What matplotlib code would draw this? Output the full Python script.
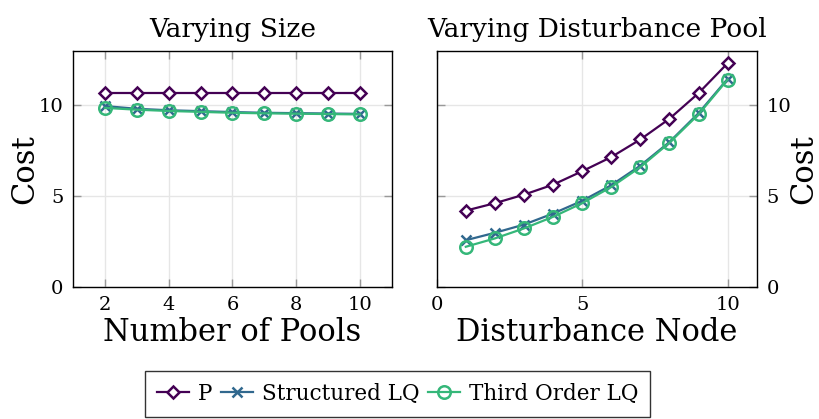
import matplotlib
matplotlib.use("Agg")
import matplotlib.pyplot as plt

plt.rcParams['font.family'] = ['DejaVu Serif']

# Left panel: varying size
pools = [2, 3, 4, 5, 6, 7, 8, 9, 10]
size_p = [10.65, 10.65, 10.65, 10.65, 10.65, 10.65, 10.65, 10.65, 10.65]
size_slq = [9.95, 9.80, 9.72, 9.67, 9.62, 9.58, 9.56, 9.54, 9.52]
size_tolq = [9.85, 9.75, 9.68, 9.63, 9.58, 9.55, 9.53, 9.51, 9.49]

# Right panel: varying disturbance pool
nodes = [1, 2, 3, 4, 5, 6, 7, 8, 9, 10]
dist_p = [4.19, 4.60, 5.07, 5.62, 6.36, 7.14, 8.11, 9.25, 10.66, 12.31]
dist_slq = [2.56, 2.97, 3.42, 4.03, 4.73, 5.59, 6.67, 7.97, 9.56, 11.45]
dist_tolq = [2.20, 2.66, 3.21, 3.85, 4.60, 5.49, 6.59, 7.93, 9.49, 11.41]

labels = ["P", "Structured LQ", "Third Order LQ"]
colors = ["#440154", "#31688e", "#35b779"]

fig = plt.figure(figsize=(8.2, 4.19), dpi=100)
ax1 = fig.add_axes([73/820, 1-286.7/419, 319/820, 236/419])
ax2 = fig.add_axes([436.7/820, 1-286.7/419, 320/820, 236/419])

def draw(ax, x, p, s, t):
    h1, = ax.plot(x, p, color=colors[0], lw=1.6, marker='D', ms=6.5, mfc='white', mec=colors[0], mew=1.8, label=labels[0])
    h2, = ax.plot(x, s, color=colors[1], lw=1.6, marker='x', ms=7, mew=1.8, label=labels[1])
    h3, = ax.plot(x, t, color=colors[2], lw=1.6, marker='o', ms=9, mfc='none', mec=colors[2], mew=1.8, label=labels[2])
    return [h1, h2, h3]

handles = draw(ax1, pools, size_p, size_slq, size_tolq)
draw(ax2, nodes, dist_p, dist_slq, dist_tolq)

for ax in (ax1, ax2):
    ax.set_ylim(0, 13)
    ax.set_yticks([0, 5, 10])
    ax.grid(True, color='#e6e6e6', lw=1)
    ax.set_axisbelow(True)
    ax.tick_params(direction='in', length=6, width=1, color='#999999', labelsize=14, top=True, pad=7)
    for sp in ax.spines.values():
        sp.set_linewidth(1.0)

ax1.set_xlim(1, 11)
ax1.set_xticks([2, 4, 6, 8, 10])
ax1.tick_params(axis='y', left=True, right=True)
ax1.set_title("Varying Size", fontsize=19, pad=10)
ax1.set_xlabel("Number of Pools", fontsize=22, labelpad=2)
ax1.set_ylabel("Cost", fontsize=22, va='center')
ax1.yaxis.set_label_coords(-0.150, 0.5)

ax2.set_xlim(0, 11)
ax2.set_xticks([0, 5, 10])
ax2.yaxis.tick_right()
ax2.yaxis.set_label_position('right')
ax2.tick_params(axis='y', left=True, right=True, labelleft=False, labelright=True)
ax2.set_title("Varying Disturbance Pool", fontsize=19, pad=10)
ax2.set_xlabel("Disturbance Node", fontsize=22, labelpad=2)
ax2.set_ylabel("Cost", fontsize=22, va='center')
ax2.yaxis.set_label_coords(1.148, 0.5)

leg = fig.legend(handles=handles, labels=labels, loc='upper center', bbox_to_anchor=(0.4848, 0.1146),
                 borderaxespad=0, ncol=3, fontsize=15.5, frameon=True, fancybox=False, edgecolor='black',
                 handlelength=1.5, handletextpad=0.4, columnspacing=0.4, borderpad=0.55)
leg.get_frame().set_linewidth(1.0)

fig.savefig("out.png", dpi=100)
